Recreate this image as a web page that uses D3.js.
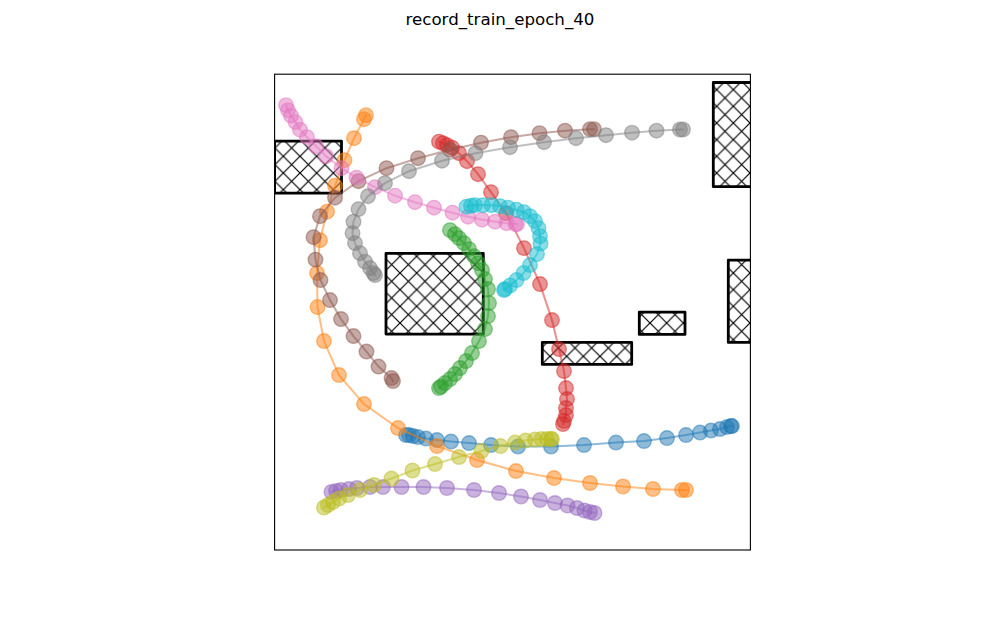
<!DOCTYPE html>
<html><head><meta charset="utf-8">
<script src="https://cdn.jsdelivr.net/npm/d3@7"></script>
<style>body{margin:0;background:#fff}</style></head>
<body>
<svg id="c" width="1000" height="618"></svg>
<script>
const chartTitle = "record_train_epoch_40";
const colors = ["#1f77b4","#ff7f0e","#2ca02c","#d62728","#9467bd","#8c564b","#e377c2","#7f7f7f","#bcbd22","#17becf"];

const trajBlue = [[131,115],[134,115],[138,114],[143,113],[151,111.5],[162,110],[176,108.5],[194,107],[216,105],[243,103.5],[276,103.5],[309,105],[341,107.5],[369,109],[392,112],[411,115],[425,117.5],[436,119.5],[445,121],[452,123],[456,124],[457,124]];
const trajOrange = [[91,435],[89,431],[79,412],[69.5,390],[60,364.5],[52,338.5],[45,310],[42,277],[42.5,243],[49,209],[64,175],[89,146],[123,122],[162,104],[202,90],[241,79],[279,72],[315,67],[348,63.5],[378,61],[407,60],[411,60]];
const trajGreen = [[175,320],[180,316],[184,312],[189,307],[194,301],[199,294],[203,287],[207,280],[210,271],[213,261],[214,247],[213,234],[210,221],[204,209],[197,197],[191,189],[185,182],[180,176],[175,171],[170,167],[166,163.5],[164,162]];
const trajRed = [[164,408.5],[168,407],[172,405],[177,402.5],[184,397],[192,389],[203,376],[216,358],[231,337],[249,302],[265,266],[277,230],[284,201],[289,179],[291,162],[292,151],[291,142],[291,135],[289,129],[288,126]];
const trajPurple = [[56.5,58],[61,59],[66,60],[74,61],[82,62],[95,63],[108,63],[126.5,63],[148.5,63],[172,62],[199,60],[224,57],[246,53.5],[265,50],[280,47],[292.5,44.5],[302,42],[309.5,39.5],[315,38],[319.5,37]];
const trajBrown = [[118,169],[116.5,172],[103.5,183.5],[91.5,198.5],[78.5,214],[66,231],[55,250],[45.5,270],[40.5,290.5],[38.5,313],[45,334],[60,352.5],[83.5,369],[111.5,382],[143,392],[175,400.5],[206,407.5],[236,413],[264.5,417],[290,419.5],[315,421],[319,421]];
const trajPink = [[11,445],[13,440],[16,434.5],[20.5,428],[25,420.5],[32,413],[41,404],[51,394],[66.5,382],[81.5,372.5],[100,363],[120,354.5],[140,348],[159,342.5],[177.5,337.5],[193,333.5],[207,330.5],[220,328.5],[231.5,327],[240.5,326],[242,326]];
const trajGray = [[100,275],[98.5,277],[95,282],[90,288.5],[85,297],[80,307],[77.5,317],[78.5,328.5],[83.5,341],[93,354],[110,367],[134,379],[167,389.5],[200.5,397],[235,403],[269,408],[301,412],[331,415],[357,417.5],[381.5,419.5],[405,420.7],[408,420.7]];
const trajOlive = [[49,42.5],[53,45],[58,48],[64,51.5],[73,55],[85,60],[99,65],[116.5,71.5],[137.5,79.5],[160,86],[184,93],[206.5,99],[225.5,104],[240,107.5],[250.5,109.5],[260,110.5],[266.5,111],[272,111],[276,111],[277,111]];
const trajCyan = [[191.5,343.5],[196,344.5],[200,345],[208,345],[216.5,345],[225,344],[233,342.5],[241.5,340.5],[249,338],[255,334],[260,329],[263.5,322],[265,314],[265.5,306.5],[262,296],[255,285],[248.5,277],[241.5,270],[235,264.5],[230,261],[229,260]];

const trajectories = [trajBlue,trajOrange,trajGreen,trajRed,trajPurple,trajBrown,trajPink,trajGray,trajOlive,trajCyan];

// obstacles: left, bottom, width, height (data units)
const obsX = [-0.4, 111, 267.3, 364.3, 453.3, 438.3];
const obsY = [357, 216, 185.7, 215.7, 207.7, 363.5];
const obsW = [66.9, 97.3, 89.4, 45.7, 24, 39];
const obsH = [52, 80.7, 22, 22.3, 82.3, 104.2];

const svg = d3.select("#c");
const x = d3.scaleLinear().domain([-0.4,475.4]).range([274.6,750.4]);
const y = d3.scaleLinear().domain([0,476]).range([550,74.2]);

const defs = svg.append("defs");
defs.append("clipPath").attr("id","axclip").append("rect")
  .attr("x",274.6).attr("y",74.2).attr("width",475.8).attr("height",475.8);
const s = 100/6;
const pat = defs.append("pattern").attr("id","hatch").attr("patternUnits","userSpaceOnUse")
  .attr("x",0).attr("y",6.3).attr("width",s).attr("height",s);
pat.append("path").attr("d",`M-2,-2L${s+2},${s+2}M-2,${s+2}L${s+2},-2`)
  .attr("stroke","#000").attr("stroke-width",1.2).attr("fill","none");

const g = svg.append("g").attr("clip-path","url(#axclip)");

g.selectAll("rect.obs").data(obsX.map((v,i)=>i)).join("rect").attr("class","obs")
  .attr("x",i=>x(obsX[i])).attr("y",i=>y(obsY[i]+obsH[i]))
  .attr("width",i=>x(obsX[i]+obsW[i])-x(obsX[i]))
  .attr("height",i=>y(obsY[i])-y(obsY[i]+obsH[i]))
  .attr("fill","url(#hatch)").attr("stroke","#000").attr("stroke-width",2.8)
  .attr("stroke-linejoin","round");

const line = d3.line().x(d=>x(d[0])).y(d=>y(d[1]));
trajectories.forEach((t,i)=>{
  const tg = g.append("g");
  tg.append("path").attr("d",line(t)).attr("fill","none")
    .attr("stroke",colors[i]).attr("stroke-width",2.08).attr("stroke-opacity",0.5)
    .attr("stroke-linecap","square");
  tg.selectAll("circle").data(t).join("circle")
    .attr("cx",d=>x(d[0])).attr("cy",d=>y(d[1])).attr("r",7.3)
    .attr("fill",colors[i]).attr("fill-opacity",0.5)
    .attr("stroke",colors[i]).attr("stroke-opacity",0.5).attr("stroke-width",1.39);
});

svg.append("rect").attr("x",274.6).attr("y",74.2).attr("width",475.8).attr("height",475.8)
  .attr("fill","none").attr("stroke","#000").attr("stroke-width",1.11);

svg.append("text").attr("x",500).attr("y",25).attr("text-anchor","middle")
  .attr("font-family","DejaVu Sans").attr("font-size",16.67).attr("fill","#000").text(chartTitle);
</script>
</body></html>
